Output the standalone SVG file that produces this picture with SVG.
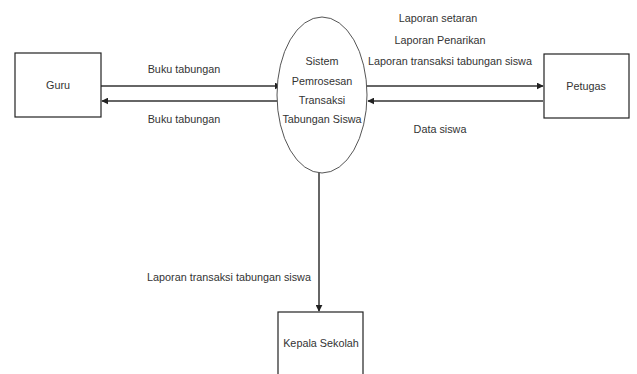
<svg xmlns="http://www.w3.org/2000/svg" width="637" height="374" viewBox="0 0 637 374">
<style>
.box{fill:#fff;stroke:#222;stroke-width:1.2}
.proc{fill:#fff;stroke:#555;stroke-width:1}
.t{font-family:"Liberation Sans",Arial,sans-serif;font-size:10.8px;fill:#333;text-anchor:middle;dominant-baseline:central}
.c{stroke:#333;stroke-width:1.5;fill:none;marker-end:url(#ah)}
</style>
<defs>
<marker id="ah" viewBox="0 0 10 10" refX="9" refY="5" markerWidth="7" markerHeight="7" markerUnits="userSpaceOnUse" orient="auto">
<path d="M0,0 L10,5 L0,10 z" fill="#222"/>
</marker>
</defs>
<rect width="637" height="374" fill="#fff"/>
<g id="connectors">
<line class="c" x1="101" y1="86" x2="281" y2="86"/>
<line class="c" x1="278" y1="101" x2="102" y2="101"/>
<line class="c" x1="366" y1="86" x2="543" y2="86"/>
<line class="c" x1="543" y1="101" x2="368" y2="101"/>
<line class="c" x1="319" y1="172" x2="319" y2="311"/>
<text class="t" x="184" y="69">Buku tabungan</text>
<text class="t" x="184" y="119">Buku tabungan</text>
<text class="t" x="438" y="18">Laporan setaran</text>
<text class="t" x="440" y="40">Laporan Penarikan</text>
<text class="t" x="450" y="61">Laporan transaksi tabungan siswa</text>
<text class="t" x="440" y="129">Data siswa</text>
<text class="t" x="229" y="277">Laporan transaksi tabungan siswa</text>
</g>
<g id="guru">
<rect class="box" x="15" y="53" width="86" height="64"/>
<text class="t" x="58" y="85">Guru</text>
</g>
<g id="sistem">
<ellipse class="proc" cx="322" cy="95" rx="45" ry="78"/>
<text class="t" x="322" y="61">Sistem</text>
<text class="t" x="322" y="81">Pemrosesan</text>
<text class="t" x="322" y="100">Transaksi</text>
<text class="t" x="322" y="119">Tabungan Siswa</text>
</g>
<g id="petugas">
<rect class="box" x="544" y="54" width="85" height="64"/>
<text class="t" x="586" y="86">Petugas</text>
</g>
<g id="kepala">
<rect class="box" x="278" y="312" width="85" height="68"/>
<text class="t" x="321" y="343">Kepala Sekolah</text>
</g>
</svg>
